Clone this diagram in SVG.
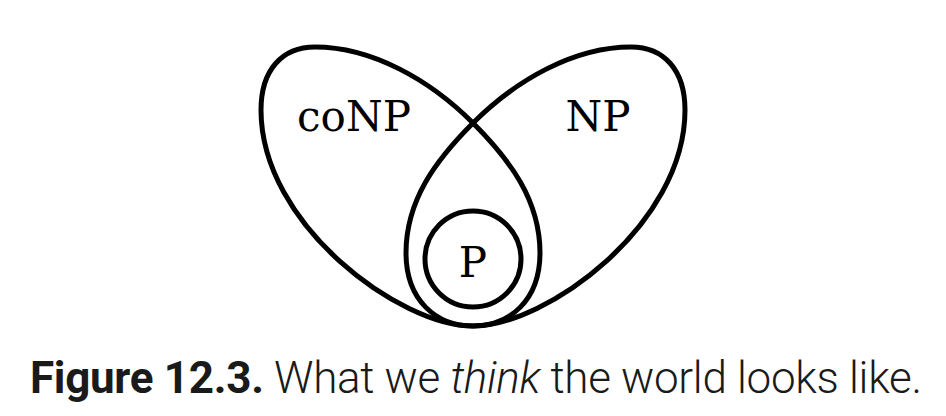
<svg xmlns="http://www.w3.org/2000/svg" width="946" height="416" viewBox="0 0 946 416">
<style>
.loop{fill:none;stroke:#000;stroke-width:5;stroke-linejoin:round}
.lbl{font-family:"DejaVu Serif","Liberation Serif",serif;font-size:42px;fill:#000;text-anchor:middle}
.cap{font-family:Roboto,"Liberation Sans",sans-serif;font-size:44px;font-weight:300;fill:#1a1a1a}
</style>
<rect width="946" height="416" fill="#fff"/>
<g id="coNP">
<path class="loop" d="M473 326 C400 326 261 225 261 110 C261 70 282 47 315 47 C372 47 430 80 473 123 C510 160 540 200 540 253 C540 300 510 326 473 326 Z"/>
<text class="lbl" x="354" y="131">coNP</text>
</g>
<g id="NP">
<path class="loop" transform="translate(946,0) scale(-1,1)" d="M473 326 C400 326 261 225 261 110 C261 70 282 47 315 47 C372 47 430 80 473 123 C510 160 540 200 540 253 C540 300 510 326 473 326 Z"/>
<text class="lbl" x="598" y="131">NP</text>
</g>
<g id="P">
<circle cx="473" cy="259" r="48" fill="none" stroke="#000" stroke-width="5"/>
<text class="lbl" x="473" y="277">P</text>
</g>
<g id="connectors"/>
<text class="cap" x="30" y="393" textLength="892" lengthAdjust="spacing"><tspan font-weight="bold">Figure 12.3.</tspan> What we <tspan font-style="italic">think</tspan> the world looks like.</text>
</svg>
